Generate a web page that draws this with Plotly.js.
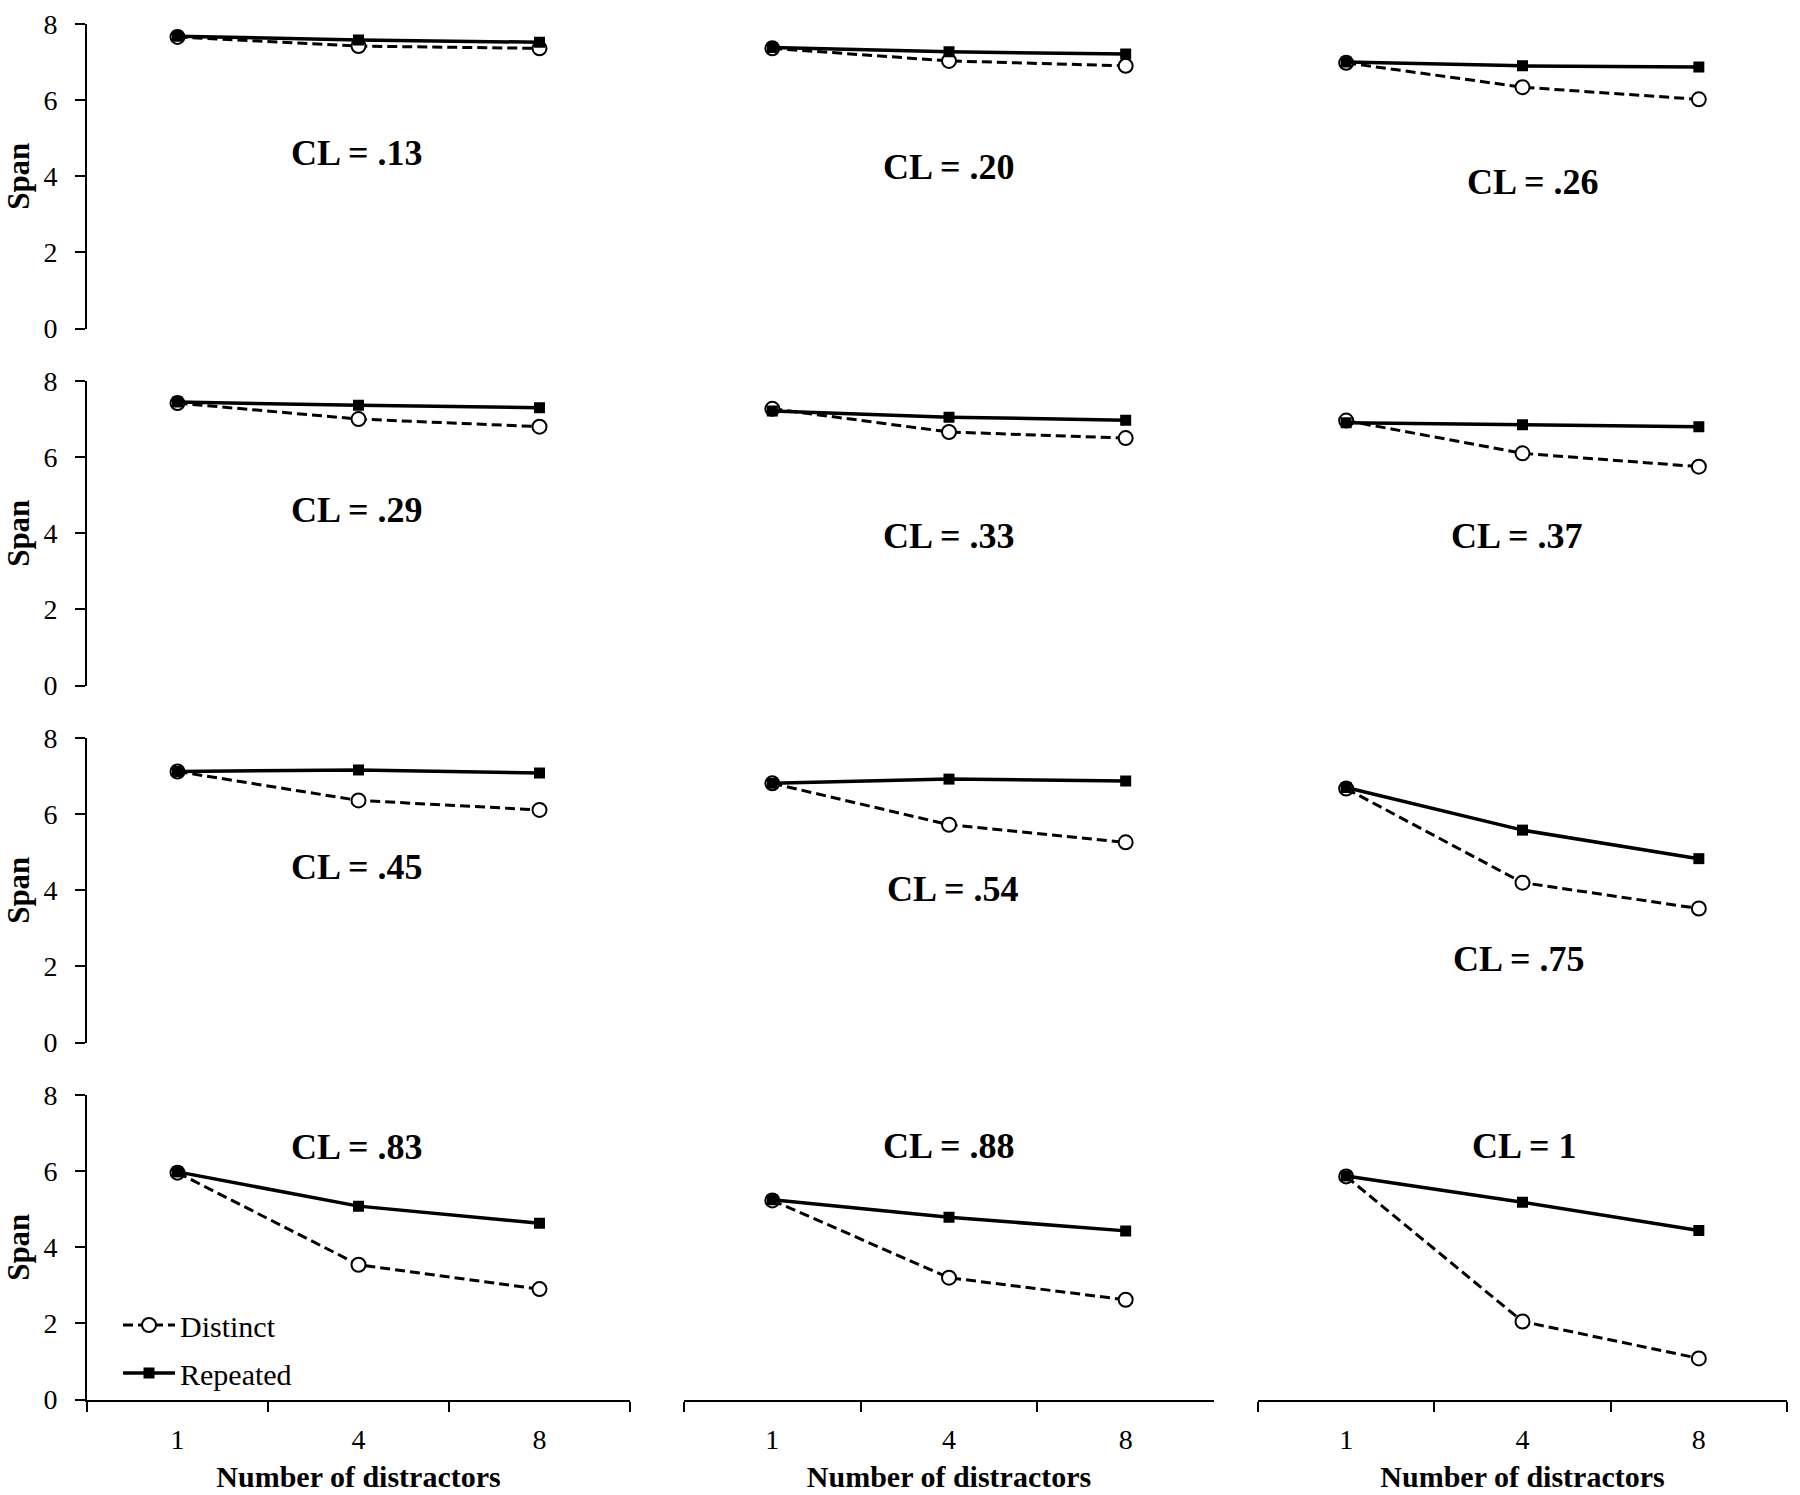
<!DOCTYPE html>
<html>
<head>
<meta charset="utf-8">
<script src="https://cdn.plot.ly/plotly-3.0.1.min.js"></script>
<style>
  body { margin: 0; background: #fff; }
  #chart { width: 1800px; height: 1495px; }
</style>
</head>
<body>
<div id="chart"></div>
<script>
// number of distractors on the x axis (category axis)
var distractors = ["1", "4", "8"];

// one panel per CL value, read row by row (3 columns x 4 rows)
var clLabels = ["CL = .13", "CL = .20", "CL = .26",
                "CL = .29", "CL = .33", "CL = .37",
                "CL = .45", "CL = .54", "CL = .75",
                "CL = .83", "CL = .88", "CL = 1"];

// span, distinct distractors
var distinct = [
    [7.66, 7.42, 7.36],
    [7.36, 7.03, 6.90],
    [6.98, 6.34, 6.02],
    [7.42, 7.00, 6.80],
    [7.27, 6.66, 6.50],
    [6.96, 6.10, 5.75],
    [7.12, 6.36, 6.11],
    [6.81, 5.72, 5.26],
    [6.67, 4.20, 3.52],
    [5.96, 3.54, 2.90],
    [5.23, 3.20, 2.62],
    [5.86, 2.05, 1.08]
];

// span, repeated distractors
var repeated = [
    [7.68, 7.58, 7.52],
    [7.38, 7.27, 7.21],
    [7.00, 6.90, 6.87],
    [7.45, 7.36, 7.30],
    [7.21, 7.05, 6.97],
    [6.90, 6.85, 6.80],
    [7.12, 7.16, 7.08],
    [6.81, 6.92, 6.87],
    [6.70, 5.58, 4.83],
    [5.98, 5.08, 4.63],
    [5.25, 4.79, 4.43],
    [5.87, 5.18, 4.44]
];

// where each CL label sits inside its panel (category index, span)
var labelX = [0.99, 1.0, 1.06, 0.99, 1.0, 0.97, 0.99, 1.02, 0.98, 0.99, 1.0, 1.01];
var labelY = [4.62, 4.25, 3.86, 4.61, 3.94, 3.94, 4.62, 4.02, 2.19, 6.63, 6.66, 6.66];

// builds the 4x3 grid of small line charts
function drawPanels(target) {
    var W = 1800, H = 1495;
    var FONT = "Liberation Serif, Times New Roman, serif";

    // panel edges in pixels
    var colLeft = [87, 684, 1258];
    var colRight = [630, 1214, 1787];
    var firstTop = 24, rowHeight = 304.5, rowStep = 357.0;

    function px2x(p) { return p / W; }
    function px2y(p) { return 1 - p / H; }

    var legendStyle = function (ypx) {
        return {
            x: px2x(118), xanchor: "left",
            y: px2y(ypx), yanchor: "middle",
            bgcolor: "rgba(0,0,0,0)",
            itemwidth: 52,
            font: { family: FONT, size: 30 }
        };
    };

    var traces = [];
    var layout = {
        width: W,
        height: H,
        margin: { l: 0, r: 0, t: 0, b: 0 },
        paper_bgcolor: "#fff",
        plot_bgcolor: "#fff",
        font: { family: FONT, color: "#000", size: 28 },
        showlegend: true,
        annotations: [],
        legend: legendStyle(1325),
        legend2: legendStyle(1373)
    };

    for (var k = 0; k < clLabels.length; k++) {
        var row = Math.floor(k / 3);
        var col = k % 3;
        var n = k + 1;
        var suffix = (n > 1 ? String(n) : "");
        var xa = "x" + suffix;
        var ya = "y" + suffix;
        var isBottom = (row === 3);
        var isLeft = (col === 0);
        var panelTop = firstTop + row * rowStep;

        layout["xaxis" + suffix] = {
            domain: [px2x(colLeft[col]), px2x(colRight[col])],
            anchor: ya,
            type: "category",
            range: [-0.5, 2.5],
            fixedrange: true,
            showgrid: false,
            zeroline: false,
            showline: isBottom,
            linecolor: "#000",
            linewidth: 2,
            ticks: isBottom ? "outside" : "",
            tickson: "boundaries",
            ticklen: 10,
            tickwidth: 2,
            tickcolor: "#000",
            showticklabels: isBottom,
            ticklabelstandoff: 14,
            tickfont: { family: FONT, size: 28 },
            title: isBottom ? {
                text: "Number of distractors",
                font: { family: FONT, size: 30, weight: "bold" },
                standoff: 12
            } : { text: "" }
        };

        layout["yaxis" + suffix] = {
            domain: [px2y(panelTop + rowHeight), px2y(panelTop)],
            anchor: xa,
            range: [0, 8],
            fixedrange: true,
            tickvals: [0, 2, 4, 6, 8],
            showgrid: false,
            zeroline: false,
            showline: isLeft,
            linecolor: "#000",
            linewidth: 2,
            ticks: isLeft ? "outside" : "",
            ticklen: 10,
            tickwidth: 2,
            tickcolor: "#000",
            showticklabels: isLeft,
            ticklabelstandoff: 12,
            tickfont: { family: FONT, size: 28 },
            title: isLeft ? {
                text: "Span",
                font: { family: FONT, size: 31, weight: "bold" },
                standoff: 5
            } : { text: "" }
        };

        // legend only in the bottom-left panel
        var withLegend = (k === 9);

        traces.push({
            x: distractors,
            y: distinct[k],
            xaxis: xa,
            yaxis: ya,
            type: "scatter",
            mode: "lines+markers",
            name: "Distinct",
            legend: "legend",
            showlegend: withLegend,
            line: { color: "#000", width: 3, dash: "10px,5px" },
            marker: { symbol: "circle", size: 14, color: "#fff", line: { color: "#000", width: 2 } }
        });

        traces.push({
            x: distractors,
            y: repeated[k],
            xaxis: xa,
            yaxis: ya,
            type: "scatter",
            mode: "lines+markers",
            name: "Repeated",
            legend: "legend2",
            showlegend: withLegend,
            line: { color: "#000", width: 3.5 },
            marker: { symbol: "square", size: 11, color: "#000" }
        });

        layout.annotations.push({
            xref: xa,
            yref: ya,
            x: labelX[k],
            y: labelY[k],
            text: clLabels[k],
            showarrow: false,
            font: { family: FONT, size: 36, weight: "bold", color: "#000" }
        });
    }

    Plotly.newPlot(target, traces, layout, { staticPlot: true });
}

drawPanels("chart");
</script>
</body>
</html>
